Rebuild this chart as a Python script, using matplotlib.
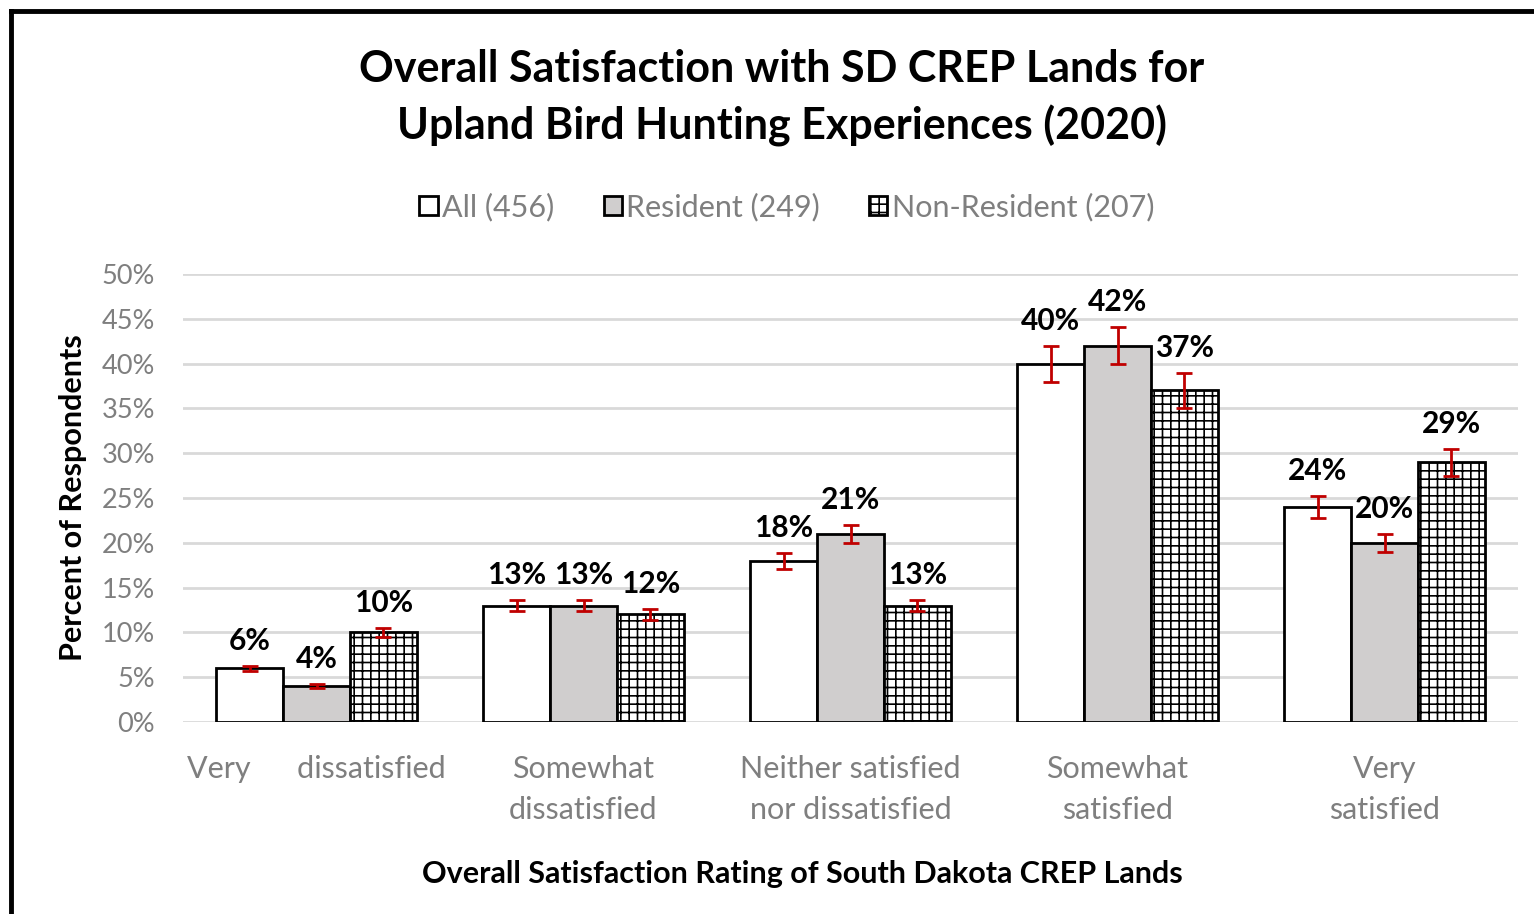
import matplotlib.pyplot as plt
from matplotlib.lines import Line2D
from matplotlib.patches import Patch
import numpy as np

plt.rcParams['font.family'] = ['Lato', 'DejaVu Sans']
plt.rcParams['hatch.color'] = '#969696'
plt.rcParams['hatch.linewidth'] = 1.2

categories = ['Very      dissatisfied', 'Somewhat\ndissatisfied',
              'Neither satisfied\nnor dissatisfied', 'Somewhat\nsatisfied', 'Very\nsatisfied']
series_names = ['All (456)', 'Resident (249)', 'Non-Resident (207)']
all_vals = [6, 13, 18, 40, 24]
res_vals = [4, 13, 21, 42, 20]
non_vals = [10, 12, 13, 37, 29]
all_err = [0.3, 0.6, 0.9, 2.0, 1.2]
res_err = [0.2, 0.6, 1.0, 2.1, 1.0]
non_err = [0.5, 0.6, 0.6, 1.9, 1.5]

fills = ['white', '#d0cece', 'white']
hatches = [None, None, '++']

fig = plt.figure(figsize=(15.34, 9.14), dpi=100)
ax = fig.add_axes([183/1534, 1 - 722/914, (1518-183)/1534, (722-274)/914])

x = np.arange(len(categories))
w = 0.25
series = [(all_vals, all_err), (res_vals, res_err), (non_vals, non_err)]
for i, (vals, errs) in enumerate(series):
    xs = x + (i - 1) * w
    ax.bar(xs, vals, w, color=fills[i], edgecolor='black', linewidth=2.0,
           hatch=hatches[i], zorder=3)
    ax.errorbar(xs, vals, yerr=errs, fmt='none', ecolor='#c00000',
                elinewidth=2, capsize=5.5, capthick=2, zorder=4)
    for xi, v, e in zip(xs, vals, errs):
        ax.annotate(f'{v}%', (xi, v + e), xytext=(0, 18), textcoords='offset points',
                    ha='center', va='center', fontsize=21.5, fontweight='bold', zorder=5)

ax.set_xlim(-0.5, 4.5)
ax.set_ylim(0, 50)
ax.set_yticks(np.arange(0, 51, 5))
ax.set_yticklabels([f'{t}%' for t in range(0, 51, 5)])
ax.set_xticks(x)
ax.set_xticklabels(categories, linespacing=1.55)
ax.tick_params(axis='both', length=0, labelcolor='#7f7f7f')
ax.tick_params(axis='x', pad=24, labelsize=22)
ax.tick_params(axis='y', pad=20, labelsize=19.5)
ax.grid(axis='y', color='#d9d9d9', linewidth=2, zorder=0)
for s in ax.spines.values():
    s.set_visible(False)

fig.text(73/1534, 1 - 498/914, 'Percent of Respondents', rotation=90,
         ha='center', va='center', fontsize=22, fontweight='bold')
fig.text(802/1534, 1 - 874/914, 'Overall Satisfaction Rating of South Dakota CREP Lands',
         ha='center', va='center', fontsize=22, fontweight='bold')
fig.text(782/1534, 1 - 98/914, 'Overall Satisfaction with SD CREP Lands for\nUpland Bird Hunting Experiences (2020)',
         ha='center', va='center', fontsize=31, fontweight='bold', linespacing=1.45)

handles = [Patch(facecolor=fills[i], edgecolor='black', linewidth=2, hatch=hatches[i])
           for i in range(3)]
leg = fig.legend(handles, series_names, loc='center', bbox_to_anchor=(787/1534, 1 - 207/914),
                 ncol=3, frameon=False, fontsize=22, handlelength=0.6, handleheight=0.6,
                 handletextpad=0.15, columnspacing=1.6)
for t in leg.get_texts():
    t.set_color('#7f7f7f')

# chart border (top and left visible)
fig.add_artist(Line2D([11/1534, 11/1534], [0, 1 - 11/914], color='black', linewidth=3.5,
                      transform=fig.transFigure))
fig.add_artist(Line2D([11/1534, 1], [1 - 11/914, 1 - 11/914], color='black', linewidth=3.5,
                      transform=fig.transFigure))

fig.savefig('out.png', dpi=100)
